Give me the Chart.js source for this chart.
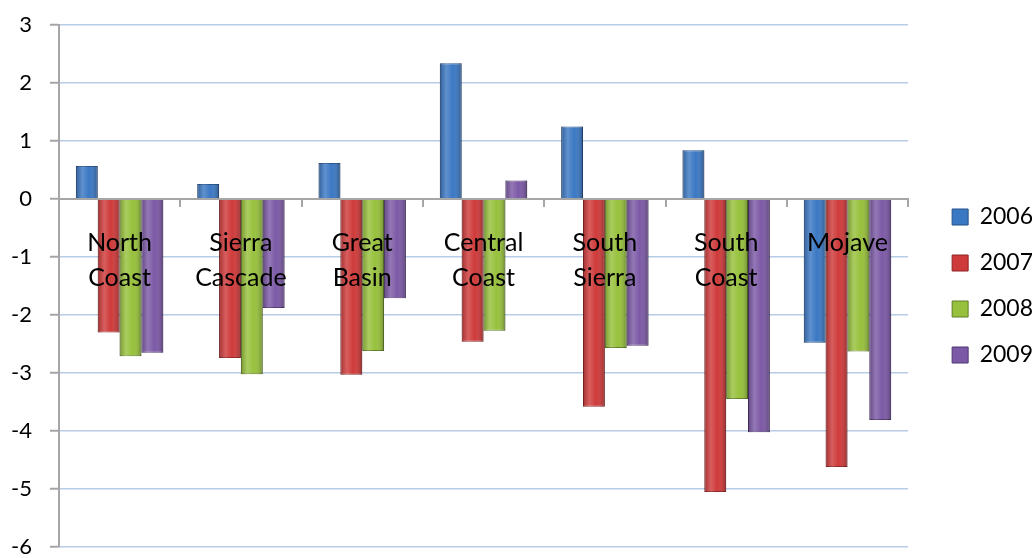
<!DOCTYPE html>
<html>
<head>
<meta charset="utf-8">
<script src="https://cdn.jsdelivr.net/npm/chart.js@4"></script>
<style>
  html, body { margin: 0; padding: 0; background: #fff; }
  #wrap { width: 1032px; height: 558px; }
</style>
</head>
<body>
<div id="wrap"><canvas id="chart"></canvas></div>
<script>
// regions and yearly values
const categories = [["North", "Coast"], ["Sierra", "Cascade"], ["Great", "Basin"], ["Central", "Coast"], ["South", "Sierra"], ["South", "Coast"], ["Mojave"]];
const years = ["2006", "2007", "2008", "2009"];
const v2006 = [0.57, 0.26, 0.62, 2.34, 1.25, 0.84, -2.48];
const v2007 = [-2.30, -2.74, -3.03, -2.46, -3.58, -5.05, -4.62];
const v2008 = [-2.71, -3.02, -2.62, -2.27, -2.57, -3.45, -2.63];
const v2009 = [-2.65, -1.88, -1.71, 0.32, -2.53, -4.02, -3.81];
const yMin = -6, yMax = 3;

const fills = ["#3b78c3", "#cf3a3a", "#97c13c", "#7c59a6"];
const edges = ["#24508a", "#8e2222", "#5f7f22", "#4e3470"];
const series = [v2006, v2007, v2008, v2009];

const FONT = "Lato, 'Open Sans', sans-serif";
const axisGrey = "#a6a6a6";

// soft cylinder shading on top of each bar
const barShade = {
    id: 'barShade',
    afterDatasetsDraw(chart) {
        const ctx = chart.ctx;
        ctx.save();
        chart.data.datasets.forEach((ds, i) => {
            chart.getDatasetMeta(i).data.forEach(bar => {
                const left = bar.x - bar.width / 2;
                const top = Math.min(bar.y, bar.base);
                const h = Math.abs(bar.base - bar.y);
                const g = ctx.createLinearGradient(left, 0, left + bar.width, 0);
                g.addColorStop(0, 'rgba(0,0,0,0.22)');
                g.addColorStop(0.3, 'rgba(255,255,255,0.18)');
                g.addColorStop(0.6, 'rgba(255,255,255,0)');
                g.addColorStop(1, 'rgba(0,0,0,0.28)');
                ctx.fillStyle = g;
                ctx.fillRect(left, top, bar.width, h);
            });
        });
        ctx.restore();
    }
};

const ctx = document.getElementById('chart').getContext('2d');
const chart = new Chart(ctx, {
    type: 'bar',
    data: {
        labels: categories,
        datasets: years.map((y, i) => ({
            label: y,
            data: series[i],
            backgroundColor: fills[i],
            borderColor: edges[i],
            borderWidth: 1,
            categoryPercentage: 0.72,
            barPercentage: 1.0
        }))
    },
    options: {
        responsive: true,
        maintainAspectRatio: false,
        animation: false,
        layout: { padding: { top: 25, left: -7, right: -11, bottom: 11 } },
        plugins: {
            tooltip: { enabled: false },
            legend: {
                position: 'right',
                labels: {
                    color: '#000',
                    font: { family: FONT, size: 23 },
                    boxWidth: 16,
                    boxHeight: 16,
                    padding: 23
                }
            }
        },
        scales: {
            x: {
                position: { y: 0 },
                afterFit: s => { s.height = 0; },
                grid: { drawOnChartArea: false, drawTicks: true, tickLength: 7, tickColor: axisGrey, lineWidth: 2 },
                border: { display: true, color: axisGrey, width: 2, z: 1 },
                ticks: {
                    z: 1,
                    color: '#000',
                    font: { family: FONT, size: 25, lineHeight: 1.4 },
                    padding: 19,
                    autoSkip: false,
                    maxRotation: 0
                }
            },
            y: {
                min: yMin,
                max: yMax,
                // keep the end labels from pushing the plot area in
                afterFit: s => { s.paddingTop = 0; s.paddingBottom = 0; },
                grid: { color: '#b8cce6', lineWidth: 1.5, tickLength: 9, tickColor: axisGrey, tickWidth: 2 },
                border: { display: true, color: axisGrey, width: 2 },
                ticks: {
                    stepSize: 1,
                    color: '#000',
                    font: { family: FONT, size: 22, lineHeight: 1 },
                    padding: 18
                }
            },
            // empty gap between plot and legend
            gap: {
                type: 'linear',
                position: 'right',
                grid: { display: false },
                border: { display: false },
                ticks: { display: false },
                afterFit: s => { s.width = 21; }
            }
        }
    },
    plugins: [barShade]
});
</script>
</body>
</html>
